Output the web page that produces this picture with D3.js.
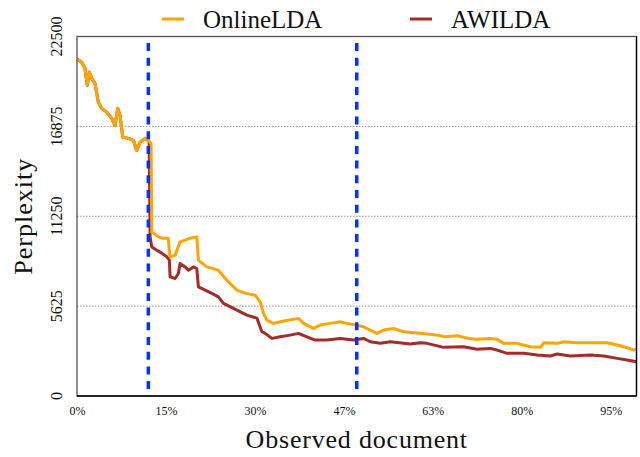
<!DOCTYPE html>
<html>
<head>
<meta charset="utf-8">
<script src="https://cdn.jsdelivr.net/npm/d3@7"></script>
<style>
	body { margin: 0; background: #fff; }
	svg { display: block; font-family: "Liberation Serif", "DejaVu Serif", serif; }
</style>
</head>
<body>
<svg id="chart" width="640" height="457"></svg>
<script>
// observed documents (%) and perplexity
const onlineX = [0, 0.84, 1.43, 1.84, 2.2, 2.63, 3.22, 3.81, 4.42, 5.31, 6.21, 6.8, 7.28, 7.69, 8.18, 9.18, 10.07, 10.68, 11.27, 12.16, 12.75, 13.24,
	13.36, 14.54, 15.38, 16.28, 16.64, 17.53, 18.43, 19.32, 20.21, 21.41, 21.7, 23.2, 25.28, 26.78, 28.57, 30.05, 31.84, 32.74, 33.33, 33.94,
	35.12, 36.31, 37.8, 39.59, 40.48, 42.27, 43.47, 45.26, 47.05, 48.25, 49.73, 51.22, 52.42, 53.61, 54.79, 56.58, 58.37, 61.36, 64.35,
	65.83, 67.93, 70.0, 71.5, 73.88, 75.08, 76.26, 78.66, 81.04, 82.83, 83.42, 85.81, 87.0, 89.39, 94.76, 96.55, 98.34, 99.52, 100];
const onlineY = [21100, 20890, 20500, 19440, 20270, 19875, 19560, 18390, 18000, 17770, 17375, 16940, 18000, 17560, 16200, 16125, 16000, 15375, 15890, 16125, 16000, 15810,
	10270, 9960, 9875, 9875, 8710, 8810, 9645, 9750, 9875, 9960, 8500, 8080, 7875, 7250, 6625, 6440, 6310, 5895, 5170, 4750,
	4545, 4645, 4750, 4855, 4545, 4230, 4440, 4545, 4645, 4545, 4440, 4330, 4125, 3920, 4125, 4230, 4020, 3920, 3810,
	3710, 3770, 3605, 3545, 3605, 3545, 3295, 3295, 3080, 3045, 3330, 3295, 3395, 3330, 3330, 3190, 3020, 2875, 2920];

const awildaX = [0, 0.84, 1.43, 1.84, 2.2, 2.63, 3.22, 3.81, 4.42, 5.31, 6.21, 6.8, 7.28, 7.69, 8.18, 9.18, 10.07, 10.68, 11.27, 12.16, 12.75, 12.9,
	13.06, 13.36, 14.26, 15.15, 16.05, 16.51, 16.64, 17.53, 18.12, 18.43, 19.32, 19.91, 20.81, 21.41, 21.7, 22.9, 24.1, 25.28, 26.17, 27.96,
	30.36, 32.15, 33.04, 33.63, 34.83, 36.31, 38.1, 39.59, 41.09, 42.58, 44.67, 47.05, 49.43, 51.22, 52.42, 54.2, 56.0, 59.57, 61.36,
	62.56, 65.53, 69.1, 71.5, 73.88, 75.08, 76.87, 79.84, 82.24, 84.62, 85.81, 88.19, 91.77, 94.15, 96.55, 98.34, 100];
const awildaY = [21100, 20890, 20500, 19440, 20270, 19875, 19560, 18390, 18000, 17770, 17375, 16940, 18000, 17560, 16200, 16125, 16000, 15375, 15890, 16125, 16000, 15900,
	9960, 9330, 9125, 8940, 8710, 8500, 7455, 7355, 7670, 8295, 8080, 7875, 8080, 7980, 6830, 6625, 6420, 6205, 5795, 5480,
	5060, 4875, 4020, 3920, 3605, 3705, 3810, 3920, 3705, 3500, 3500, 3605, 3500, 3605, 3395, 3295, 3395, 3250, 3330,
	3295, 3045, 3080, 2920, 2980, 2875, 2670, 2670, 2560, 2500, 2625, 2500, 2560, 2500, 2355, 2250, 2145];

const seriesNames = ["OnlineLDA", "AWILDA"];
const seriesColors = ["#ffa500", "#a52a2a"];

const yTicks = [0, 5625, 11250, 16875, 22500];
const gridTicks = [5625, 11250, 16875];
const xTicks = [0, 15.9, 31.8, 47.7, 63.6, 79.5, 95.4];
const xTickLabels = ["0%", "15%", "30%", "47%", "63%", "80%", "95%"];
const markers = [12.75, 50];

const margin = { left: 77, right: 3.5, top: 36.5, bottom: 61 };
const width = 640, height = 457;

const svg = d3.select("#chart");

const x = d3.scaleLinear().domain([0, 100]).range([margin.left, width - margin.right]);
const y = d3.scaleLinear().domain([0, 22500]).range([height - margin.bottom, margin.top]);

// grid
svg.append("g")
	.selectAll("line")
	.data(gridTicks)
	.join("line")
	.attr("x1", x(0))
	.attr("x2", x(100))
	.attr("y1", (d) => y(d))
	.attr("y2", (d) => y(d))
	.attr("stroke", "#9a9a9a")
	.attr("stroke-width", 1)
	.attr("stroke-dasharray", "1.5,1.5");

// lines
const line = d3.line()
	.x((d) => x(d[0]))
	.y((d) => y(d[1]));

const awilda = awildaX.map((v, i) => [v, awildaY[i]]);
const online = onlineX.map((v, i) => [v, onlineY[i]]);

svg.append("path")
	.datum(awilda)
	.attr("fill", "none")
	.attr("stroke", seriesColors[1])
	.attr("stroke-width", 3)
	.attr("stroke-linejoin", "round")
	.attr("d", line);

svg.append("path")
	.datum(online)
	.attr("fill", "none")
	.attr("stroke", seriesColors[0])
	.attr("stroke-width", 3)
	.attr("stroke-linejoin", "round")
	.attr("d", line);

// change markers
svg.append("g")
	.selectAll("line")
	.data(markers)
	.join("line")
	.attr("x1", (d) => x(d))
	.attr("x2", (d) => x(d))
	.attr("y1", margin.top + 6.5)
	.attr("y2", y(0))
	.attr("stroke", "#0033ff")
	.attr("stroke-width", 3.5)
	.attr("stroke-dasharray", "8,6.7");

// frame
svg.append("rect")
	.attr("x", x(0))
	.attr("y", y(22500))
	.attr("width", x(100) - x(0))
	.attr("height", y(0) - y(22500))
	.attr("fill", "none")
	.attr("stroke", "#555")
	.attr("stroke-width", 1.3);
svg.append("line")
	.attr("x1", x(0)).attr("x2", x(100))
	.attr("y1", y(0)).attr("y2", y(0))
	.attr("stroke", "#000").attr("stroke-width", 1.5);
svg.append("line")
	.attr("x1", x(100)).attr("x2", x(100))
	.attr("y1", y(22500)).attr("y2", y(0))
	.attr("stroke", "#000").attr("stroke-width", 1.3);

// x axis
const xAxis = svg.append("g")
	.attr("transform", `translate(0,${y(0)})`)
	.call(d3.axisBottom(x).tickValues(xTicks).tickFormat((d, i) => xTickLabels[i]).tickSize(0).tickPadding(10));
xAxis.select(".domain").remove();
xAxis.selectAll("text")
	.attr("font-family", "Liberation Serif, serif")
	.attr("font-size", 12)
	.attr("fill", "#111");

// y axis labels (rotated)
svg.append("g")
	.selectAll("text")
	.data(yTicks)
	.join("text")
	.attr("transform", (d) => `translate(61.5,${y(d)}) rotate(-90)`)
	.attr("text-anchor", "middle")
	.attr("font-size", 16)
	.attr("fill", "#111")
	.text((d) => d);

// axis titles
svg.append("text")
	.attr("x", x(50))
	.attr("y", 448)
	.attr("text-anchor", "middle")
	.attr("font-size", 26)
	.attr("letter-spacing", 0.8)
	.attr("fill", "#111")
	.text("Observed document");

svg.append("text")
	.attr("transform", `translate(32,${(y(0) + y(22500)) / 2}) rotate(-90)`)
	.attr("text-anchor", "middle")
	.attr("font-size", 26)
	.attr("letter-spacing", 1)
	.attr("fill", "#111")
	.text("Perplexity");

// legend
const legendX = [162, 410];
const legend = svg.append("g")
	.selectAll("g")
	.data(seriesNames)
	.join("g")
	.attr("transform", (d, i) => `translate(${legendX[i]},19)`);
legend.append("line")
	.attr("x1", 0)
	.attr("x2", 22)
	.attr("stroke", (d, i) => seriesColors[i])
	.attr("stroke-width", 3);
legend.append("text")
	.attr("x", 41)
	.attr("y", 9)
	.attr("font-size", 25)
	.attr("fill", "#111")
	.text((d) => d);
</script>
</body>
</html>
